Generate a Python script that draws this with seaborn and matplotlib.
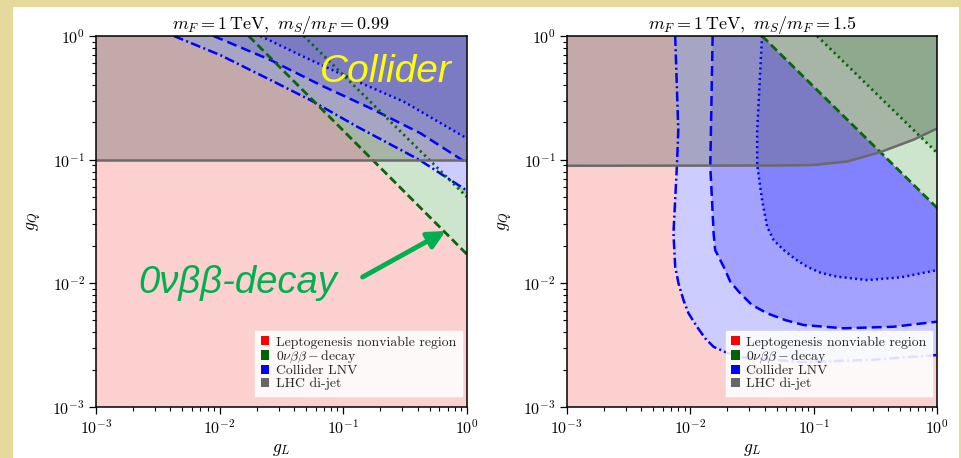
import matplotlib
matplotlib.use("Agg")
import matplotlib.pyplot as plt
from matplotlib.patches import Patch, Rectangle
import seaborn as sns

# ---------------- data ----------------
# Left panel: m_S/m_F = 0.99
L_title = r"$m_F = 1\,\mathrm{TeV},\ m_S/m_F = 0.99$"
L_col_dashdot_gL = [0.00427, 0.01012, 0.02576, 0.0543, 0.130, 0.410, 1.0]
L_col_dashdot_gQ = [1.0, 0.701, 0.441, 0.303, 0.1845, 0.100, 0.0562]
L_col_dashed_gL = [0.00893, 0.02576, 0.0655, 0.1667, 0.4236, 1.0]
L_col_dashed_gQ = [1.0, 0.640, 0.401, 0.260, 0.163, 0.0938]
L_col_dotted_gL = [0.0214, 0.0480, 0.122, 0.310, 1.0]
L_col_dotted_gQ = [1.0, 0.679, 0.441, 0.294, 0.1486]
L_0vbb_dashed_gL = [0.0172, 1.0]
L_0vbb_dashed_gQ = [1.0, 0.0172]
L_0vbb_dotted_gL = [0.048, 1.0]
L_0vbb_dotted_gQ = [1.0, 0.050]
L_dijet_gL = [0.001, 1.0]
L_dijet_gQ = [0.1, 0.1]

# Right panel: m_S/m_F = 1.5
R_title = r"$m_F = 1\,\mathrm{TeV},\ m_S/m_F = 1.5$"
R_col_dashdot_gL = [0.00755, 0.0080, 0.00780, 0.00731, 0.00755, 0.00803, 0.00881,
                    0.00968, 0.01132, 0.01321, 0.01545, 0.01923, 0.0254, 0.0780,
                    0.2877, 1.0]
R_col_dashdot_gQ = [1.0, 0.1734, 0.0904, 0.0253, 0.01358, 0.00995, 0.00729,
                    0.00570, 0.00444, 0.00357, 0.00305, 0.00277, 0.00252, 0.00230,
                    0.00239, 0.00262]
R_col_dashed_gL = [0.01517, 0.01452, 0.01500, 0.01545, 0.0159, 0.01862, 0.0211,
                   0.0254, 0.0316, 0.0419, 0.0589, 0.0828, 0.1750, 0.4446, 1.0]
R_col_dashed_gQ = [1.0, 0.0875, 0.0471, 0.0253, 0.01854, 0.01358, 0.01026,
                   0.00826, 0.00665, 0.00570, 0.00502, 0.00458, 0.00431, 0.00444,
                   0.00488]
R_col_dotted_gL = [0.0381, 0.0348, 0.0348, 0.0381, 0.0419, 0.0473, 0.0570, 0.0710,
                   0.0883, 0.1132, 0.1545, 0.2704, 0.5047, 1.0]
R_col_dotted_gQ = [1.0, 0.1734, 0.0904, 0.0471, 0.0286, 0.0223, 0.01854, 0.0156,
                   0.01358, 0.01214, 0.01127, 0.01059, 0.01114, 0.01276]
R_0vbb_dashed_gL = [0.0381, 1.0]
R_0vbb_dashed_gQ = [1.0, 0.0404]
R_0vbb_dotted_gL = [0.1064, 1.0]
R_0vbb_dotted_gQ = [1.0, 0.1125]
R_dijet_gL = [0.001, 0.0537, 0.0993, 0.186, 0.347, 0.646, 1.0]
R_dijet_gQ = [0.0891, 0.0895, 0.0904, 0.0964, 0.1151, 0.1453, 0.179]

legend_labels = ["Leptogenesis nonviable region", r"$0\nu\beta\beta-$decay",
                 "Collider LNV", "LHC di-jet"]
legend_colors = ["#ff0000", "#006400", "#0000ff", "#666666"]

# ---------------- style ----------------
sns.set_theme(style="ticks")
plt.rcParams["font.family"] = ["cmr10", "DejaVu Serif"]
plt.rcParams["mathtext.fontset"] = "cm"
plt.rcParams["axes.formatter.use_mathtext"] = True
plt.rcParams["axes.unicode_minus"] = False

PINK = "#fdd0d0"
BLUE = "#0000ff"
LGREEN = "#008000"
DGREEN = "#0a640a"
GRAYLINE = "#6a6a6a"

fig = plt.figure(figsize=(9.62, 4.58), dpi=100)
fig.patch.set_facecolor("#e5da9b")
fig.add_artist(Rectangle((13 / 962, 0), (959 - 13) / 962, (458 - 7) / 458,
                         transform=fig.transFigure, facecolor="white",
                         edgecolor="none", zorder=-10))

ax_w = 370.7 / 962
ax_h = 370.7 / 458
ax_b = (458 - 406.7) / 458
axL = fig.add_axes([96 / 962, ax_b, ax_w, ax_h])
axR = fig.add_axes([566.7 / 962, ax_b, ax_w, ax_h])


def region(ax, gl, gq, color, alpha, z):
    xs = list(gl) + [1.0]
    ys = list(gq) + [1.0]
    ax.fill(xs, ys, facecolor=color, alpha=alpha, lw=0, zorder=z)


def boundary(ax, gl, gq, color, ls, lw):
    sns.lineplot(x=gl, y=gq, ax=ax, color=color, linestyle=ls, lw=lw,
                 sort=False, estimator=None, zorder=6)


def panel(ax, title, col, vbb, dijet, green_on_top):
    ax.set_xscale("log")
    ax.set_yscale("log")
    ax.set_facecolor(PINK)
    (cdd_x, cdd_y), (cda_x, cda_y), (cdo_x, cdo_y) = col
    (gda_x, gda_y), (gdo_x, gdo_y) = vbb

    def blue_regions(z0):
        region(ax, cdd_x, cdd_y, "white", 1.0, z0)
        region(ax, cdd_x, cdd_y, BLUE, 0.2, z0 + 0.1)
        region(ax, cda_x, cda_y, BLUE, 0.2, z0 + 0.2)
        region(ax, cdo_x, cdo_y, BLUE, 0.2, z0 + 0.3)

    def green_regions(z0):
        region(ax, gda_x, gda_y, "white", 1.0, z0)
        region(ax, gda_x, gda_y, LGREEN, 0.2, z0 + 0.1)
        region(ax, gdo_x, gdo_y, LGREEN, 0.2, z0 + 0.2)

    if green_on_top:
        blue_regions(1)
        green_regions(2)
    else:
        green_regions(1)
        blue_regions(2)

    # LHC di-jet excluded region (above the curve)
    dx, dy = dijet
    ax.fill(list(dx) + [1.0, 0.001], list(dy) + [1.0, 1.0],
            facecolor="#737373", alpha=0.42, lw=0, zorder=3)

    boundary(ax, cdd_x, cdd_y, BLUE, (0, (4, 1.3, 0.8, 1.3)), 1.8)
    boundary(ax, cda_x, cda_y, BLUE, (0, (4, 2)), 1.8)
    boundary(ax, cdo_x, cdo_y, BLUE, (0, (0.8, 1.3)), 1.8)
    boundary(ax, gda_x, gda_y, DGREEN, (0, (3, 1.5)), 2.0)
    boundary(ax, gdo_x, gdo_y, DGREEN, (0, (0.8, 1.3)), 2.0)
    boundary(ax, dx, dy, GRAYLINE, "-", 1.8)

    ax.set_xlim(1e-3, 1)
    ax.set_ylim(1e-3, 1)
    ax.set_title(title, fontsize=13, pad=4, color="black")
    ax.set_xlabel(r"$g_L$", fontsize=12.5, color="black", labelpad=4)
    ax.set_ylabel(r"$g_Q$", fontsize=12.5, color="black", labelpad=6)
    ax.tick_params(which="major", direction="out", length=5, width=0.9,
                   labelsize=11.5, colors="black", pad=3)
    ax.tick_params(which="minor", direction="out", length=3, width=0.8,
                   colors="black")
    for s in ax.spines.values():
        s.set_linewidth(1.1)
        s.set_color("black")
        s.set_zorder(10)
    ax.grid(False)

    handles = [Patch(facecolor=c, edgecolor="none") for c in legend_colors]
    leg = ax.legend(handles, legend_labels, loc="lower right",
                    bbox_to_anchor=(0.986, 0.03), borderaxespad=0,
                    fontsize=9.9, handlelength=0.65, handleheight=0.65,
                    handletextpad=0.45, labelspacing=0.0, borderpad=0.4,
                    framealpha=0.88, edgecolor="white", fancybox=False)
    leg.set_zorder(8)


panel(axL, L_title,
      [(L_col_dashdot_gL, L_col_dashdot_gQ), (L_col_dashed_gL, L_col_dashed_gQ),
       (L_col_dotted_gL, L_col_dotted_gQ)],
      [(L_0vbb_dashed_gL, L_0vbb_dashed_gQ), (L_0vbb_dotted_gL, L_0vbb_dotted_gQ)],
      (L_dijet_gL, L_dijet_gQ), green_on_top=False)
panel(axR, R_title,
      [(R_col_dashdot_gL, R_col_dashdot_gQ), (R_col_dashed_gL, R_col_dashed_gQ),
       (R_col_dotted_gL, R_col_dotted_gQ)],
      [(R_0vbb_dashed_gL, R_0vbb_dashed_gQ), (R_0vbb_dotted_gL, R_0vbb_dotted_gQ)],
      (R_dijet_gL, R_dijet_gQ), green_on_top=True)

# Annotations on the left panel
axL.text(0.604, 0.877, "Collider", transform=axL.transAxes, color="#ffff00",
         fontsize=28, family=["Liberation Sans", "DejaVu Sans"], style="italic",
         ha="left", va="baseline", zorder=9)
axL.text(0.113, 0.306, "0νββ-decay", transform=axL.transAxes, color="#00b050",
         fontsize=27.5, family=["Liberation Sans", "DejaVu Sans"], style="italic",
         ha="left", va="baseline", zorder=9)
axL.annotate("", xy=(0.676, 0.0264), xytext=(0.1436, 0.0112),
             arrowprops=dict(arrowstyle="-|>", color="#00b050", lw=3.5,
                             mutation_scale=26, shrinkA=0, shrinkB=0),
             zorder=9)

fig.savefig("out.png", dpi=100, facecolor=fig.get_facecolor())
